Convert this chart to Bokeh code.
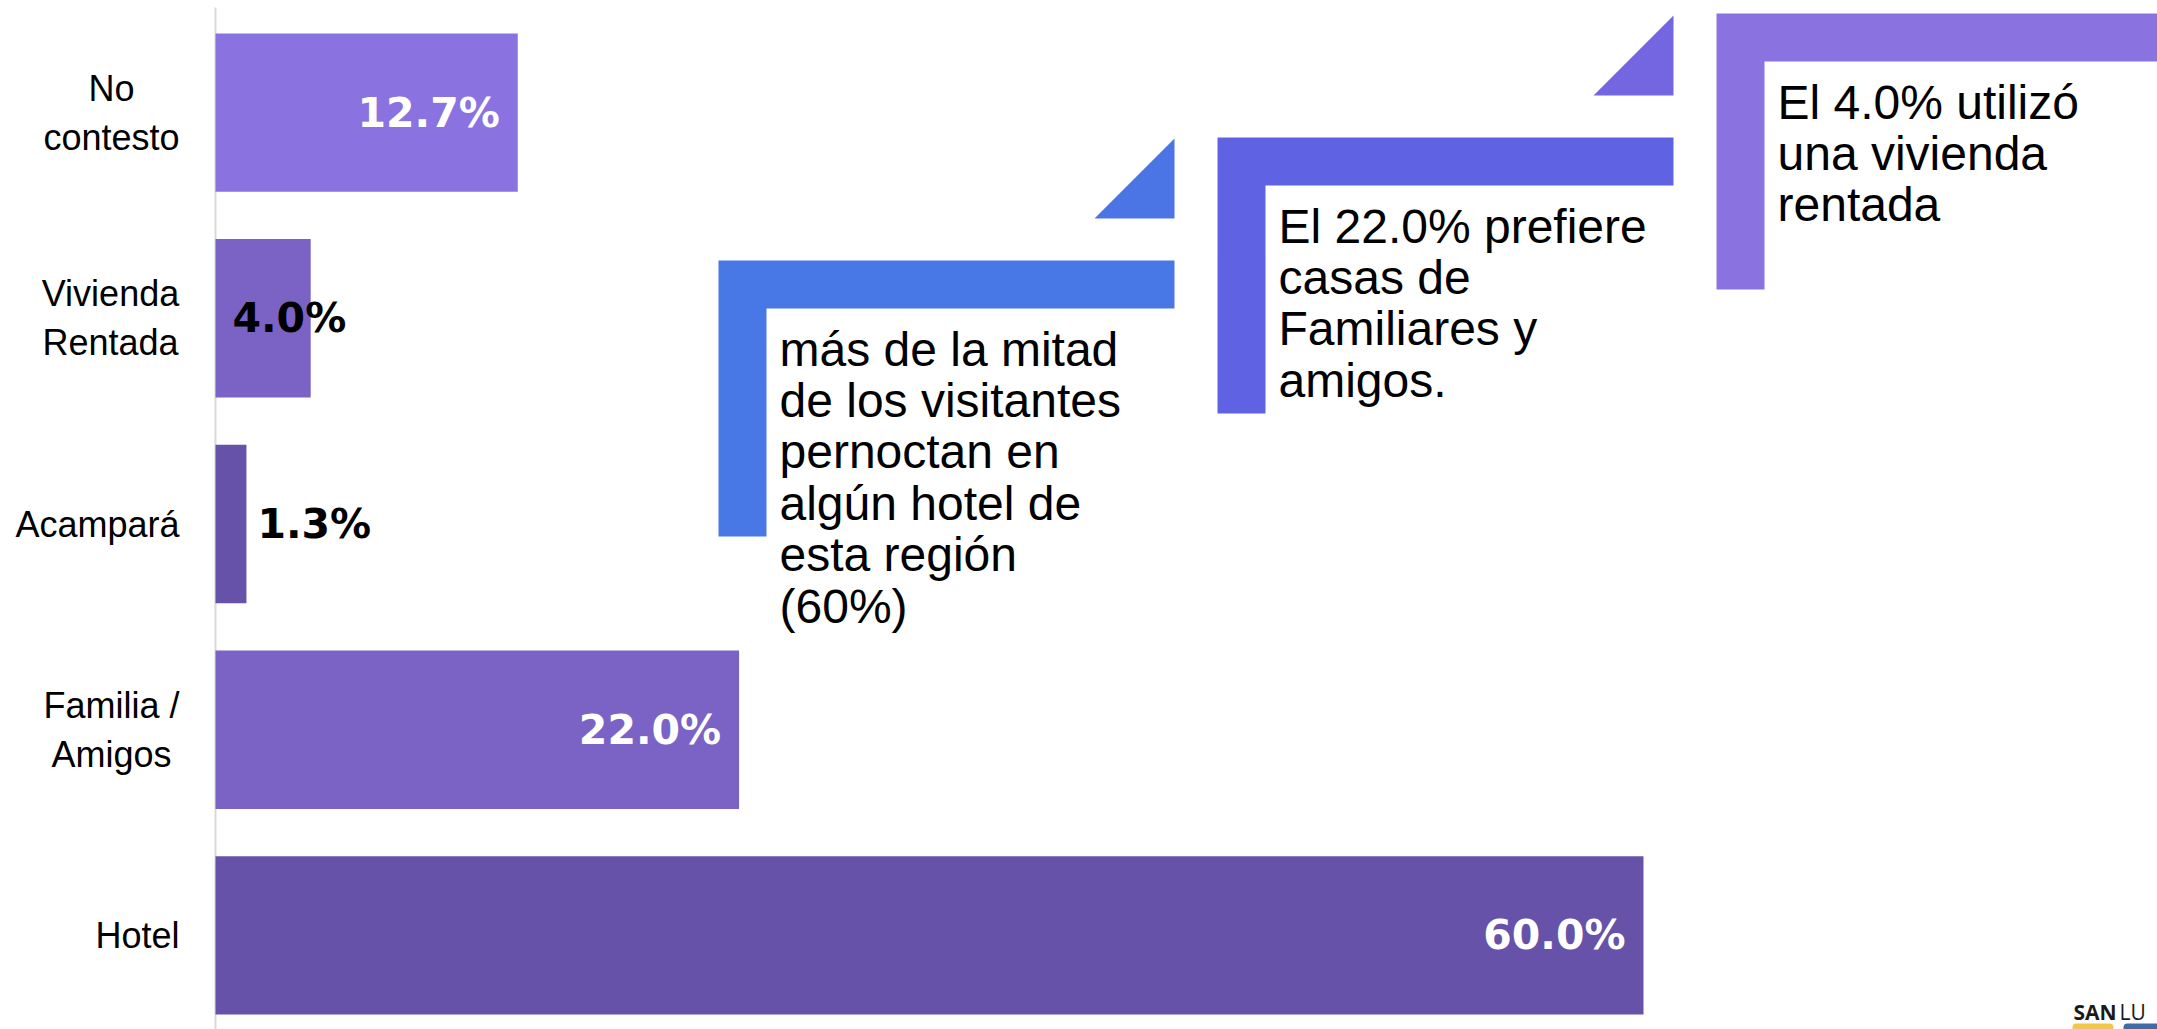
from bokeh.plotting import figure
from bokeh.models import Range1d
from bokeh.core.properties import value
from bokeh.embed import file_html
from bokeh.resources import INLINE

# ---------------- data ----------------
categories = ["Hotel", "Familia / Amigos", "Acampará", "Vivienda Rentada", "No contesto"]
tick_labels = ["Hotel", "Familia /\nAmigos", "Acampará", "Vivienda\nRentada", "No\ncontesto"]
values = [60.0, 22.0, 1.3, 4.0, 12.7]
bar_colors = ["#6652A8", "#7A63C4", "#6652A8", "#7A63C4", "#8A73E0"]
label_text = ["60.0%", "22.0%", "1.3%", "4.0%", "12.7%"]
label_place = ["end", "end", "outside", "base", "end"]

notes = [
    "más de la mitad\nde los visitantes\npernoctan en\nalgún hotel de\nesta región\n(60%)",
    "El 22.0% prefiere\ncasas de\nFamiliares y\namigos.",
    "El 4.0% utilizó\nuna vivienda\nrentada",
]
note_colors = ["#4877E6", "#5F63E3", "#8A73E0"]
tri_colors = ["#4B74E5", "#7366E0", "#8A73E0"]

# ---------------- layout ----------------
W, H = 2157, 1029
AXIS_PX = 215         # page px where x = 0
PX_X = 23.8           # px per x unit
PX_Y = 205.7          # px per category
Y_TOP = 4.545         # data y at page top
x_start = -AXIS_PX / PX_X
x_end = (W - AXIS_PX) / PX_X
y_bot = Y_TOP - H / PX_Y

def X(px):   # page px -> data x
    return (px - AXIS_PX) / PX_X

def Y(py):   # page px -> data y
    return Y_TOP - py / PX_Y

# approximate Liberation Sans advance widths (em) for label centring
CW = {"N": .722, "o": .556, "c": .5, "n": .556, "t": .278, "e": .556, "s": .5, "V": .667,
      "i": .222, "v": .5, "d": .556, "a": .556, "R": .722, "A": .667, "m": .833, "p": .556,
      "r": .333, "á": .556, "F": .611, "l": .222, " ": .278, "/": .278, "g": .556, "H": .722}

def text_w(s, size):
    return max(sum(CW.get(ch, .556) for ch in line) for line in s.split("\n")) * size

p = figure(width=W, height=H, output_backend="svg", toolbar_location=None,
           x_range=Range1d(x_start, x_end), y_range=Range1d(y_bot, Y_TOP),
           min_border=0)
p.outline_line_color = None
p.grid.visible = False
p.axis.visible = False
p.background_fill_color = "white"
p.border_fill_color = "white"

ypos = list(range(len(categories)))

# axis line
p.segment(x0=[0], y0=[Y(7)], x1=[0], y1=[y_bot], line_color="#d9d9d9", line_width=2)

# category labels: right-aligned block, centred lines
LAB_SIZE = 36
LAB_RIGHT = 179
for yv, t in zip(ypos, tick_labels):
    cx = X(LAB_RIGHT - text_w(t, LAB_SIZE) / 2)
    p.text(x=[cx], y=[yv], text=[t], text_align="center", text_baseline="middle",
           text_font=value("Liberation Sans"), text_font_size=f"{LAB_SIZE}px", text_color="black")

p.hbar(y=ypos, right=values, left=0, height=0.77, color=bar_colors, line_color=None)

# value labels
for yv, v, t, place in zip(ypos, values, label_text, label_place):
    if place == "end":
        x, off, align, col = v, -18, "right", "white"
    elif place == "base":
        x, off, align, col = 0, 17, "left", "black"
    else:
        x, off, align, col = v, 11, "left", "black"
    p.text(x=[x], y=[yv], text=[t], x_offset=off, text_align=align, text_baseline="middle",
           text_color=col, text_font=value("DejaVu Sans"), text_font_style="bold",
           text_font_size="41px")

# callout shapes (staircase)
origins = [(718, 260), (1217, 137), (1716, 13)]
LEN, HGT, TH, TRI, GAP = 456, 276, 48, 80, 42
for (ox, oy), note, c, tc in zip(origins, notes, note_colors, tri_colors):
    xs = [X(ox), X(ox + LEN), X(ox + LEN), X(ox + TH), X(ox + TH), X(ox)]
    ys = [Y(oy), Y(oy), Y(oy + TH), Y(oy + TH), Y(oy + HGT), Y(oy + HGT)]
    p.patch(xs, ys, color=c, line_color=None)
    rx, by = ox + LEN, oy - GAP
    p.patch([X(rx - TRI), X(rx), X(rx)], [Y(by), Y(by), Y(by - TRI)], color=tc, line_color=None)
    p.text(x=[X(ox + 61)], y=[Y(oy + 62)], text=[note], text_align="left", text_baseline="top",
           text_font=value("Liberation Sans"), text_font_size="48px", text_color="black",
           text_line_height=0.97)

# logo fragment
p.text(x=[X(2073)], y=[Y(1011)], text=["SAN"], text_font=value("Open Sans"), text_font_style="bold",
       text_font_size="21px", text_baseline="alphabetic", text_color="#1a1a1a")
p.text(x=[X(2119)], y=[Y(1011)], text=["LU"], text_font=value("Open Sans"),
       text_font_size="21px", text_baseline="alphabetic", text_color="#1a1a1a")
p.quad(left=[X(2072), X(2123)], right=[X(2113), X(2170)], top=[Y(1023), Y(1023)], bottom=[Y(1035), Y(1035)],
       color=["#F0C845", "#3D6DA8"], line_color=None, border_radius=4)

open("out.html", "w").write(file_html(p, INLINE))
